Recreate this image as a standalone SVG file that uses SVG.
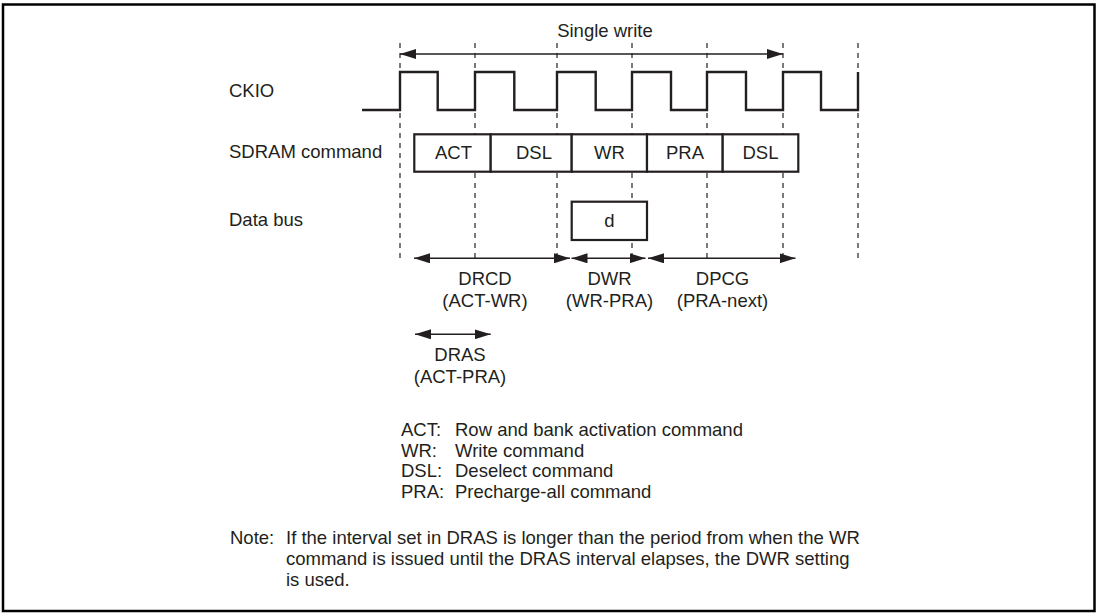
<svg xmlns="http://www.w3.org/2000/svg" width="1100" height="613" viewBox="0 0 1100 613">
<style>
text{font-family:"Liberation Sans",Arial,Helvetica,sans-serif;font-size:18.5px;fill:#231f20}
.c{text-anchor:middle}
.guide{stroke:#333;stroke-width:1.3;stroke-dasharray:5 5;fill:none}
.box{fill:#fff;stroke:#231f20;stroke-width:2.2}
.clk{fill:none;stroke:#231f20;stroke-width:2.4;stroke-linejoin:miter}
.arr{stroke:#231f20;stroke-width:1.4;fill:none;marker-start:url(#ah);marker-end:url(#ah)}
</style>
<defs>
<marker id="ah" markerUnits="userSpaceOnUse" markerWidth="16" markerHeight="10" refX="16" refY="5" orient="auto-start-reverse" viewBox="0 0 16 10">
<path d="M0,0 L16,5 L0,10 z" fill="#231f20"/>
</marker>
</defs>
<rect id="frame" x="3" y="4.5" width="1091.5" height="606.5" fill="#fff" stroke="#000" stroke-width="2.5"/>

<g id="guides">
<line class="guide" x1="400" y1="43" x2="400" y2="262"/>
<line class="guide" x1="475" y1="43" x2="475" y2="262"/>
<line class="guide" x1="557" y1="43" x2="557" y2="262"/>
<line class="guide" x1="632" y1="43" x2="632" y2="262"/>
<line class="guide" x1="707" y1="43" x2="707" y2="262"/>
<line class="guide" x1="783" y1="43" x2="783" y2="262"/>
<line class="guide" x1="858" y1="43" x2="858" y2="262"/>
</g>

<g id="signal-labels">
<text x="229" y="96.5">CKIO</text>
<text x="229" y="157.5">SDRAM command</text>
<text x="229" y="226">Data bus</text>
</g>

<g id="single-write">
<text class="c" x="605" y="36.5">Single write</text>
</g>

<g id="ckio">
<path class="clk" d="M362,110 H400 V72 H437.7 V110 H475 V72 H514.3 V110 H557 V72 H595.7 V110 H632 V72 H671 V110 H707 V72 H746 V110 H783 V72 H821 V110 H858 V72"/>
</g>

<g id="cmd-ACT"><rect class="box" x="414.3" y="134.3" width="76.4" height="37.4"/><text class="c" x="453.5" y="159">ACT</text></g>
<g id="cmd-DSL1"><rect class="box" x="490.7" y="134.3" width="81" height="37.4"/><text class="c" x="534" y="159">DSL</text></g>
<g id="cmd-WR"><rect class="box" x="571.7" y="134.3" width="75.3" height="37.4"/><text class="c" x="609.5" y="159">WR</text></g>
<g id="cmd-PRA"><rect class="box" x="647" y="134.3" width="75.7" height="37.4"/><text class="c" x="685" y="159">PRA</text></g>
<g id="cmd-DSL2"><rect class="box" x="722.7" y="134.3" width="75.6" height="37.4"/><text class="c" x="760.5" y="159">DSL</text></g>

<g id="data-d"><rect class="box" x="571.7" y="201.7" width="75.3" height="38.3"/><text class="c" x="609.5" y="227.3">d</text></g>

<g id="connectors">
<line class="arr" x1="400" y1="54" x2="783" y2="54"/>
<line class="arr" x1="414" y1="258.3" x2="570" y2="258.3"/>
<line class="arr" x1="571.5" y1="258.3" x2="645.5" y2="258.3"/>
<line class="arr" x1="648" y1="258.3" x2="795.5" y2="258.3"/>
<line class="arr" x1="415" y1="334.3" x2="490.7" y2="334.3"/>
</g>

<g id="timing-labels">
<text class="c" x="485" y="285">DRCD</text>
<text class="c" x="485" y="307">(ACT-WR)</text>
<text class="c" x="609.5" y="285">DWR</text>
<text class="c" x="609.5" y="307">(WR-PRA)</text>
<text class="c" x="722.5" y="285">DPCG</text>
<text class="c" x="722.5" y="307">(PRA-next)</text>
<text class="c" x="460" y="360.5">DRAS</text>
<text class="c" x="460" y="382.5">(ACT-PRA)</text>
</g>

<g id="legend">
<text x="401" y="436">ACT:</text><text x="455" y="436">Row and bank activation command</text>
<text x="401" y="456.5">WR:</text><text x="455" y="456.5">Write command</text>
<text x="401" y="477">DSL:</text><text x="455" y="477">Deselect command</text>
<text x="401" y="497.5">PRA:</text><text x="455" y="497.5">Precharge-all command</text>
</g>

<g id="note">
<text x="230" y="544">Note:</text>
<text x="286" y="544">If the interval set in DRAS is longer than the period from when the WR</text>
<text x="286" y="565">command is issued until the DRAS interval elapses, the DWR setting</text>
<text x="286" y="586">is used.</text>
</g>
</svg>
